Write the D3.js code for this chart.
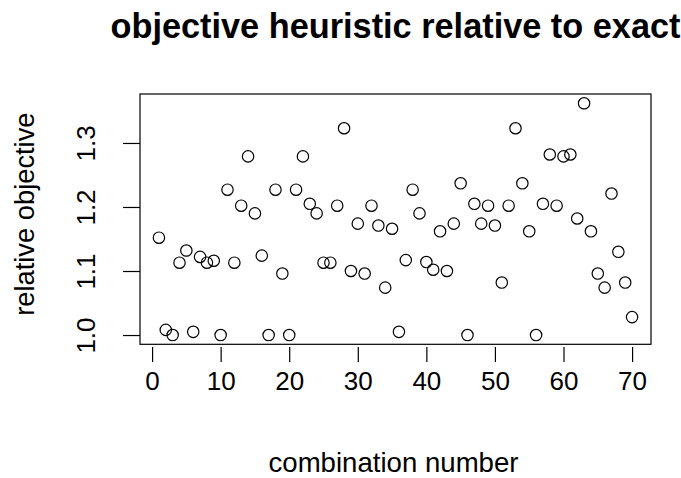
<!DOCTYPE html>
<html>
<head>
<meta charset="utf-8">
<script src="https://cdn.jsdelivr.net/npm/d3@7"></script>
<style>
  html, body { margin: 0; padding: 0; background: #fff; }
  svg { display: block; font-family: "Liberation Sans", Arial, sans-serif; }
</style>
</head>
<body>
<svg id="chart" width="681" height="478"></svg>
<script>
// Relative objective of the heuristic vs. the exact solution, one value per combination
const relObjective = [
  1.152, 1.008, 1.000, 1.113, 1.132, 1.005, 1.122, 1.113, 1.116, 1.000,
  1.227, 1.113, 1.202, 1.279, 1.190, 1.124, 1.000, 1.227, 1.096, 1.000,
  1.227, 1.279, 1.205, 1.190, 1.113, 1.113, 1.202, 1.323, 1.100, 1.174,
  1.096, 1.202, 1.171, 1.074, 1.166, 1.005, 1.117, 1.227, 1.190, 1.114,
  1.102, 1.162, 1.100, 1.174, 1.237, 1.000, 1.205, 1.174, 1.202, 1.171,
  1.082, 1.202, 1.323, 1.237, 1.162, 1.000, 1.205, 1.282, 1.202, 1.279,
  1.282, 1.182, 1.362, 1.162, 1.096, 1.074, 1.221, 1.130, 1.082, 1.028
];
const combination = relObjective.map((_, i) => i + 1);
const xTicks = [0, 10, 20, 30, 40, 50, 60, 70];
const yTicks = [1.0, 1.1, 1.2, 1.3];

const titleText = "objective heuristic relative to exact";
const xLabel = "combination number";
const yLabel = "relative objective";

const svg = d3.select("#chart");
const plot = { left: 140, right: 651, top: 94, bottom: 344.3 };

// 4% padding on each side of the data range
function padded(ext) {
  const p = (ext[1] - ext[0]) * 0.04;
  return [ext[0] - p, ext[1] + p];
}

const x = d3.scaleLinear()
  .domain(padded(d3.extent(combination)))
  .range([plot.left, plot.right]);
const y = d3.scaleLinear()
  .domain(padded(d3.extent(relObjective)))
  .range([plot.bottom, plot.top]);

const ink = "#000";

// frame
svg.append("rect")
  .attr("x", plot.left).attr("y", plot.top)
  .attr("width", plot.right - plot.left)
  .attr("height", plot.bottom - plot.top)
  .attr("fill", "none").attr("stroke", ink).attr("stroke-width", 1.2);

// x axis: ticks hang just below the frame
const xAxis = d3.axisBottom(x).tickValues(xTicks).tickSize(15).tickPadding(10)
  .tickFormat(d3.format("d"));
const gx = svg.append("g")
  .attr("transform", `translate(0,${plot.bottom + 2.7})`)
  .call(xAxis);
gx.select(".domain").remove();
gx.selectAll(".tick line").attr("stroke", ink).attr("stroke-width", 1.2);
gx.selectAll(".tick text")
  .attr("fill", ink)
  .attr("font-size", 26)
  .attr("font-family", "Liberation Sans, Arial, sans-serif")
  .attr("dy", null)
  .attr("y", 43);

// y axis: ticks attached to the frame, labels rotated
const yAxis = d3.axisLeft(y).tickValues(yTicks).tickSize(17)
  .tickFormat(d3.format(".1f"));
const gy = svg.append("g")
  .attr("transform", `translate(${plot.left},0)`)
  .call(yAxis);
gy.select(".domain").remove();
gy.selectAll(".tick line").attr("stroke", ink).attr("stroke-width", 1.2);
gy.selectAll(".tick text")
  .attr("fill", ink)
  .attr("font-size", 26)
  .attr("font-family", "Liberation Sans, Arial, sans-serif")
  .attr("x", null).attr("dy", null)
  .attr("text-anchor", "middle")
  .attr("transform", "translate(-45,0) rotate(-90)");

// points
svg.append("g")
  .selectAll("circle")
  .data(relObjective)
  .join("circle")
  .attr("cx", (d, i) => x(combination[i]))
  .attr("cy", d => y(d))
  .attr("r", 5.7)
  .attr("fill", "none")
  .attr("stroke", ink)
  .attr("stroke-width", 1.2);

// title and axis labels
svg.append("text")
  .attr("x", (plot.left + plot.right) / 2)
  .attr("y", 37.5)
  .attr("text-anchor", "middle")
  .attr("font-size", 34.3)
  .attr("font-weight", "bold")
  .attr("fill", ink)
  .text(titleText);

svg.append("text")
  .attr("x", (plot.left + plot.right) / 2 - 2)
  .attr("y", 472)
  .attr("text-anchor", "middle")
  .attr("font-size", 27.6)
  .attr("fill", ink)
  .text(xLabel);

svg.append("text")
  .attr("transform", `translate(34,${(plot.top + plot.bottom) / 2 - 5}) rotate(-90)`)
  .attr("text-anchor", "middle")
  .attr("font-size", 27.3)
  .attr("fill", ink)
  .text(yLabel);
</script>
</body>
</html>
